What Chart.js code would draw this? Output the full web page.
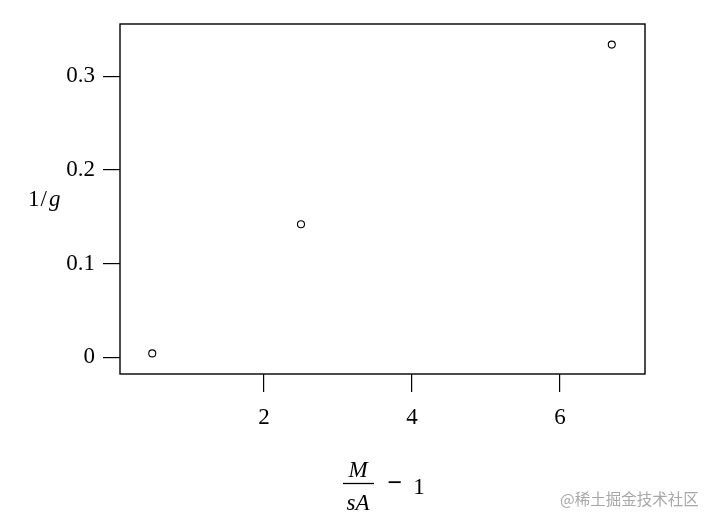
<!DOCTYPE html>
<html>
<head>
<meta charset="utf-8">
<script src="https://cdn.jsdelivr.net/npm/chart.js@4/dist/chart.umd.min.js"></script>
<style>
html,body{margin:0;padding:0;background:#fff;}
#wrap{width:710px;height:522px;position:relative;}
</style>
</head>
<body>
<div id="wrap"><canvas id="c" width="710" height="522"></canvas></div>
<script>
// Data
const xValues = [0.49, 2.5, 6.7];
const yValues = [0.004, 0.142, 0.334];
const xTickValues = [2, 4, 6];
const yTickValues = [0, 0.1, 0.2, 0.3];
const yAxisLabel = ['1', '/', 'g'];
const xAxisLabelNum = 'M';
const xAxisLabelDen = 'sA';
const xAxisLabelTail = ['\u2212', '1'];
const watermark = '@稀土掘金技术社区';

const points = xValues.map((x, i) => ({x: x, y: yValues[i]}));
const SERIF = '"Liberation Serif", "DejaVu Serif", serif';

const framePlugin = {
  id: 'frame',
  afterDraw(chart) {
    const {ctx, chartArea: a} = chart;
    ctx.save();
    ctx.strokeStyle = '#000';
    ctx.lineWidth = 1.4;
    ctx.strokeRect(a.left, a.top, a.right - a.left, a.bottom - a.top);

    // Y-axis label "1/g"
    ctx.fillStyle = '#000';
    ctx.textBaseline = 'alphabetic';
    ctx.textAlign = 'left';
    ctx.font = '23px ' + SERIF;
    let x = 28;
    const yb = 206;
    ctx.fillText(yAxisLabel[0], x, yb); x += ctx.measureText(yAxisLabel[0]).width + 1;
    ctx.fillText(yAxisLabel[1], x, yb); x += ctx.measureText(yAxisLabel[1]).width + 2;
    ctx.font = 'italic 23px ' + SERIF;
    ctx.fillText(yAxisLabel[2], x, yb);

    // X-axis label: fraction M / sA  − 1
    ctx.textAlign = 'center';
    ctx.font = 'italic 23px ' + SERIF;
    ctx.fillText(xAxisLabelNum, 358, 477);
    ctx.fillText(xAxisLabelDen, 358, 510);
    ctx.beginPath();
    ctx.lineWidth = 1.3;
    ctx.moveTo(343, 483.5);
    ctx.lineTo(374, 483.5);
    ctx.stroke();
    ctx.font = 'bold 26px ' + SERIF;
    ctx.fillText(xAxisLabelTail[0], 395, 491);
    ctx.font = '23px ' + SERIF;
    ctx.fillText(xAxisLabelTail[1], 419, 494);

    // watermark
    ctx.textAlign = 'left';
    ctx.fillStyle = 'rgba(130,130,130,0.7)';
    ctx.font = '15.5px "Noto Sans CJK SC", sans-serif';
    ctx.fillText(watermark, 560, 505);
    ctx.restore();
  }
};

new Chart(document.getElementById('c'), {
  type: 'scatter',
  data: {
    datasets: [{
      data: points,
      pointRadius: 3.5,
      pointHoverRadius: 3.5,
      pointBorderWidth: 1.1,
      pointBorderColor: '#000',
      pointBackgroundColor: '#fff',
      showLine: false
    }]
  },
  options: {
    responsive: false,
    animation: false,
    devicePixelRatio: 1,
    layout: {padding: {left: 0, top: 24, right: 65, bottom: 0}},
    plugins: {legend: {display: false}, tooltip: {enabled: false}},
    scales: {
      x: {
        type: 'linear',
        min: 0.054,
        max: 7.149,
        afterBuildTicks(s) { s.ticks = xTickValues.map(v => ({value: v})); },
        afterFit(s) { s.height = 522 - 374; },
        border: {display: false},
        grid: {drawOnChartArea: false, drawTicks: true, tickLength: 18, color: '#000', lineWidth: 1.2},
        ticks: {
          color: '#000', padding: 12, maxRotation: 0,
          font: {family: SERIF, size: 23},
          callback: v => String(v)
        }
      },
      y: {
        type: 'linear',
        min: -0.018,
        max: 0.356,
        afterBuildTicks(s) { s.ticks = yTickValues.map(v => ({value: v})); },
        afterFit(s) { s.width = 120; },
        border: {display: false},
        grid: {drawOnChartArea: false, drawTicks: true, tickLength: 17, color: '#000', lineWidth: 1.2},
        ticks: {
          color: '#000', padding: 8,
          font: {family: SERIF, size: 23},
          callback: v => String(v)
        }
      }
    }
  },
  plugins: [framePlugin]
});
</script>
</body>
</html>
